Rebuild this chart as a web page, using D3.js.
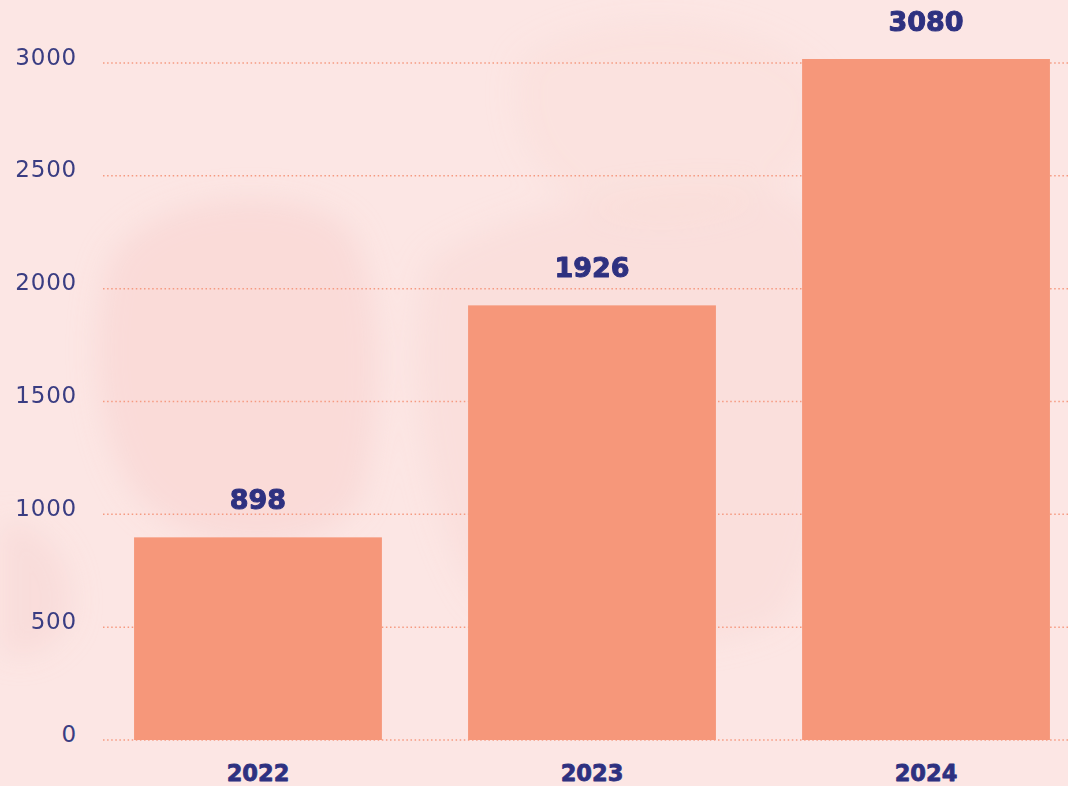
<!DOCTYPE html>
<html><head><meta charset="utf-8">
<script src="https://cdn.jsdelivr.net/npm/d3@7"></script>
<style>html,body{margin:0;padding:0;background:#fce6e4;overflow:hidden}</style>
</head><body>
<svg id="c" width="1068" height="786"></svg>
<script>
const categories = ["2022", "2023", "2024"];
const values = [898, 1926, 3080];
const yTicks = [0, 500, 1000, 1500, 2000, 2500, 3000];

const W = 1068, H = 786;
const svg = d3.select("#c");
const defs = svg.append("defs");
defs.append("filter").attr("id","blur").attr("x","-50%").attr("y","-50%").attr("width","200%").attr("height","200%")
  .append("feGaussianBlur").attr("stdDeviation", 14);
defs.append("clipPath").attr("id","plotclip").append("rect")
  .attr("x", 0).attr("y", 59).attr("width", W).attr("height", H);

svg.append("rect").attr("width", W).attr("height", H).attr("fill", "#fce6e4");
// soft watercolor background
const bg = svg.append("g").attr("filter","url(#blur)");
bg.append("path").attr("d","M110,260 C150,190 300,180 350,230 C390,300 380,430 360,500 C320,560 200,560 140,500 C90,440 90,320 110,260 Z").attr("fill","#f8d3d0").attr("opacity",0.6);
bg.append("path").attr("d","M430,260 C520,200 700,170 800,200 C860,260 850,520 780,620 C700,660 560,650 480,600 C420,520 400,330 430,260 Z").attr("fill","#f8d6d3").attr("opacity",0.45);
bg.append("path").attr("d","M520,60 C600,0 760,10 820,80 C840,160 760,220 660,220 C560,220 500,150 520,60 Z").attr("fill","#f9dbd8").attr("opacity",0.4);
bg.append("path").attr("d","M0,520 C40,520 80,560 70,620 C50,660 10,660 0,650 Z").attr("fill","#f8d4d1").attr("opacity",0.5);

const x = d3.scaleBand().domain(categories).range([103, 1081]).paddingInner(0.258).paddingOuter(0.093);
const y = d3.scaleLinear().domain([0, 3000]).range([740, 63]);

// gridlines
svg.append("g").selectAll("line").data(yTicks).join("line")
  .attr("x1", 103).attr("x2", W)
  .attr("y1", d => y(d)).attr("y2", d => y(d))
  .attr("stroke", "#f59a80").attr("stroke-width", 1.5).attr("stroke-dasharray", "1.5 2.6");

// y axis labels
const yAxis = d3.axisLeft(y).tickValues(yTicks).tickSize(0).tickPadding(0).tickFormat(d3.format("d"));
const ya = svg.append("g").attr("transform", "translate(77,0)").call(yAxis);
ya.select(".domain").remove();
ya.selectAll("text").attr("font-family","DejaVu Sans").attr("font-size", 23).attr("fill","#3a3d82")
  .attr("letter-spacing", "0.8px").attr("dy", "1px").attr("dominant-baseline","auto");

// bars
svg.append("g").attr("clip-path","url(#plotclip)").selectAll("rect").data(values).join("rect")
  .attr("x", (d,i) => x(categories[i])).attr("width", x.bandwidth())
  .attr("y", d => y(d)).attr("height", d => y(0) - y(d))
  .attr("fill", "#f6977a");

// value labels
svg.append("g").selectAll("text").data(values).join("text")
  .attr("x", (d,i) => x(categories[i]) + x.bandwidth()/2)
  .attr("y", d => Math.max(y(d), 59) - 28)
  .attr("text-anchor","middle").attr("font-family","DejaVu Sans").attr("font-weight","bold")
  .attr("font-size", 27).attr("fill","#2e3180").attr("stroke","#2e3180").attr("stroke-width",1)
  .attr("stroke-linejoin","round").text(d => d);

// x axis labels
const xAxis = d3.axisBottom(x).tickSize(0).tickPadding(0);
const xa = svg.append("g").attr("transform","translate(0,781)").call(xAxis);
xa.select(".domain").remove();
xa.selectAll("text").attr("font-family","DejaVu Sans").attr("font-weight","bold").attr("font-size", 22.5)
  .attr("fill","#2e3180").attr("stroke","#2e3180").attr("stroke-width",0.8).attr("stroke-linejoin","round")
  .attr("dy", 0).attr("dominant-baseline","auto");
</script>
</body></html>
